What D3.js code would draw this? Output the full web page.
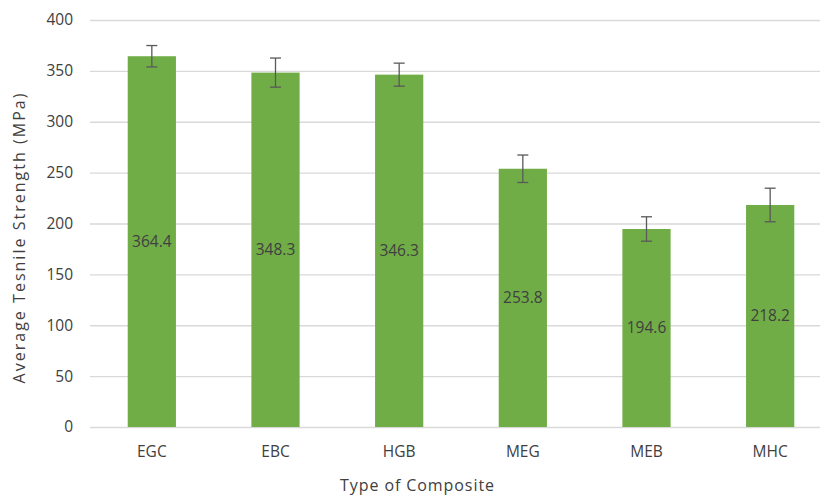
<!DOCTYPE html>
<html>
<head>
<meta charset="utf-8">
<script src="https://cdn.jsdelivr.net/npm/d3@7"></script>
<style>
  html, body { margin: 0; padding: 0; background: #fff; }
  svg { display: block; }
  text { font-family: "Open Sans", "Noto Sans", sans-serif; }
</style>
</head>
<body>
<svg id="chart" width="820" height="497"></svg>
<script>
const categories = ["EGC", "EBC", "HGB", "MEG", "MEB", "MHC"];
const values = [364.4, 348.3, 346.3, 253.8, 194.6, 218.2];
const errors = [10.5, 14.3, 11.3, 13.5, 12.0, 16.5];
const yTicks = [0, 50, 100, 150, 200, 250, 300, 350, 400];
const yTitle = "Average Tesnile Strength (MPa)";
const xTitle = "Type of Composite";

const svg = d3.select("#chart");
const pL = 90, pR = 832, pT = 20, pB = 427;

const x = d3.scaleBand().domain(categories).range([pL, pR]).paddingInner(0.61).paddingOuter(0.305);
const y = d3.scaleLinear().domain([0, 400]).range([pB, pT]);

// gridlines
svg.append("g").selectAll("line").data(yTicks).join("line")
  .attr("x1", pL).attr("x2", pR)
  .attr("y1", d => y(d) + 0.5).attr("y2", d => y(d) + 0.5)
  .attr("stroke", "#d9d9d9").attr("stroke-width", 1.3);

// y tick labels
const yAxis = d3.axisLeft(y).tickValues(yTicks).tickSize(0).tickPadding(0);
const ya = svg.append("g").attr("transform", `translate(${pL - 17},0)`).call(yAxis);
ya.select(".domain").remove();
ya.selectAll("text").attr("font-size", 15.5).attr("fill", "#404040")
  .attr("font-family", "'Open Sans', sans-serif");

// bars
svg.append("g").selectAll("rect").data(values).join("rect")
  .attr("x", (d, i) => x(categories[i]))
  .attr("width", x.bandwidth())
  .attr("y", d => y(d))
  .attr("height", d => y(0) - y(d))
  .attr("fill", "#70ad47");

// error bars
const eg = svg.append("g").attr("stroke", "#595959").attr("stroke-width", 1.3);
values.forEach((v, i) => {
  const cx = x(categories[i]) + x.bandwidth() / 2;
  const t = y(v + errors[i]), b = y(v - errors[i]);
  eg.append("line").attr("x1", cx).attr("x2", cx).attr("y1", t).attr("y2", b);
  eg.append("line").attr("x1", cx - 5.5).attr("x2", cx + 5.5).attr("y1", t).attr("y2", t);
  eg.append("line").attr("x1", cx - 5.5).attr("x2", cx + 5.5).attr("y1", b).attr("y2", b);
});

// value labels
svg.append("g").selectAll("text").data(values).join("text")
  .attr("x", (d, i) => x(categories[i]) + x.bandwidth() / 2)
  .attr("y", d => (y(d) + y(0)) / 2)
  .attr("dy", "0.35em")
  .attr("text-anchor", "middle")
  .attr("font-size", 15.5)
  .attr("fill", "#404040")
  .text(d => d.toFixed(1));

// x tick labels
const xAxis = d3.axisBottom(x).tickSize(0).tickPadding(0);
const xa = svg.append("g").attr("transform", `translate(0,${pB + 19})`).call(xAxis);
xa.select(".domain").remove();
xa.selectAll("text").attr("font-size", 15.5).attr("fill", "#404040")
  .attr("font-family", "'Open Sans', sans-serif");

// axis titles
svg.append("text").attr("x", 417).attr("y", 485).attr("dy", "0.35em")
  .attr("text-anchor", "middle").attr("font-size", 16).attr("fill", "#404040")
  .attr("textLength", 154).attr("lengthAdjust", "spacing").text(xTitle);
svg.append("text").attr("transform", `translate(19,${(pT + pB) / 2 + 15}) rotate(-90)`)
  .attr("dy", "0.35em").attr("text-anchor", "middle").attr("font-size", 16)
  .attr("fill", "#404040").attr("textLength", 290).attr("lengthAdjust", "spacing").text(yTitle);
</script>
</body>
</html>
